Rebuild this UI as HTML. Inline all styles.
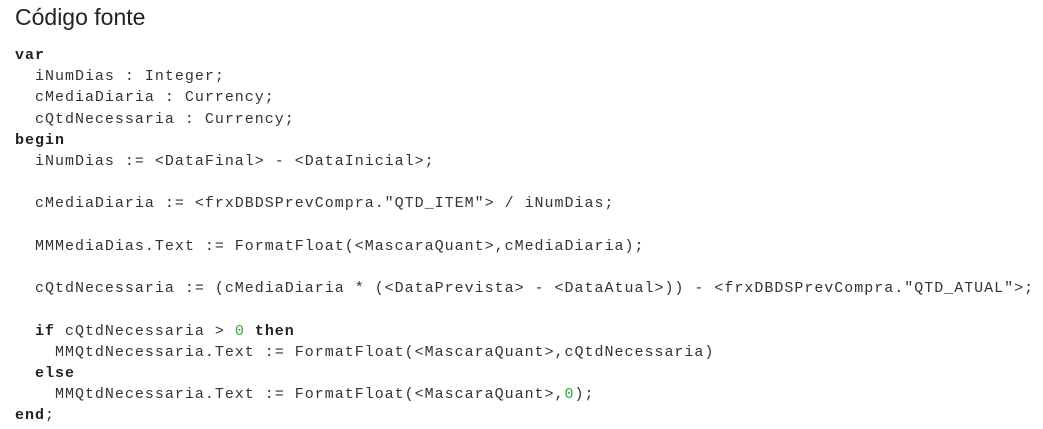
<!DOCTYPE html>
<html><head><meta charset="utf-8"><style>
html,body{margin:0;padding:0;background:#fff;width:1043px;height:429px;overflow:hidden}
h1{position:absolute;left:15px;top:4px;margin:0;font:400 23px "Liberation Sans",sans-serif;color:#222}
pre{position:absolute;left:15px;top:45px;margin:0;font-family:"Liberation Mono",monospace;font-size:15px;letter-spacing:0.99px;line-height:21.2px;color:#333}
b{font-weight:bold;color:#222}
.n{color:#3a3}
</style></head><body>
<h1>Código fonte</h1>
<pre><b>var</b>
  iNumDias : Integer;
  cMediaDiaria : Currency;
  cQtdNecessaria : Currency;
<b>begin</b>
  iNumDias := &lt;DataFinal&gt; - &lt;DataInicial&gt;;

  cMediaDiaria := &lt;frxDBDSPrevCompra."QTD_ITEM"&gt; / iNumDias;

  MMMediaDias.Text := FormatFloat(&lt;MascaraQuant&gt;,cMediaDiaria);

  cQtdNecessaria := (cMediaDiaria * (&lt;DataPrevista&gt; - &lt;DataAtual&gt;)) - &lt;frxDBDSPrevCompra."QTD_ATUAL"&gt;;

  <b>if</b> cQtdNecessaria &gt; <span class="n">0</span> <b>then</b>
    MMQtdNecessaria.Text := FormatFloat(&lt;MascaraQuant&gt;,cQtdNecessaria)
  <b>else</b>
    MMQtdNecessaria.Text := FormatFloat(&lt;MascaraQuant&gt;,<span class="n">0</span>);
<b>end</b>;</pre>
</body></html>
